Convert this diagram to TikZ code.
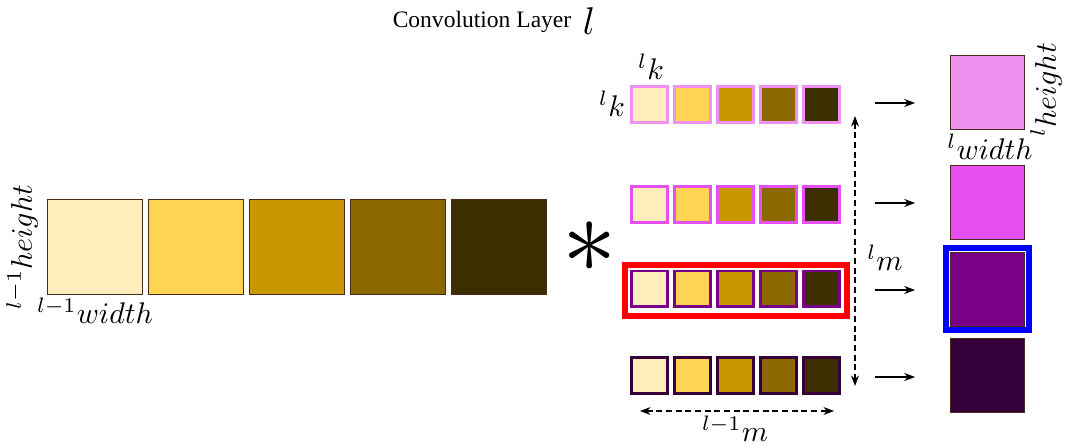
\documentclass[tikz,border=0pt]{standalone}
\usepackage{fontspec}
\usepackage{amsmath}
\newfontfamily\titlefont{Liberation Serif}
\usetikzlibrary{calc, positioning}
\usetikzlibrary{arrows.meta}

\definecolor{cA}{HTML}{FFEDBC}
\definecolor{cB}{HTML}{FFD453}
\definecolor{cC}{HTML}{C99700}
\definecolor{cD}{HTML}{8C6800}
\definecolor{cE}{HTML}{3D2E00}
\definecolor{oA}{HTML}{F090F0}
\definecolor{oB}{HTML}{E64FF2}
\definecolor{oC}{HTML}{7A0087}
\definecolor{oD}{HTML}{36003A}
\definecolor{edge}{HTML}{4A2A1A}

\tikzset{
    inbox/.style={draw=edge, line width=0.6pt, inner sep=0pt, minimum size=1.9cm},
    kbox/.style={line width=1.7pt, inner sep=0pt, minimum size=0.72cm},
    outbox/.style={draw=edge, line width=0.6pt, inner sep=0pt, minimum size=1.48cm},
    lbl/.style={scale=1.7, inner sep=0pt},
    dimarrow/.style={dash pattern=on 3.5pt off 2pt, {Stealth[length=6pt]}-{Stealth[length=6pt]}, line width=0.7pt},
}

\begin{document}
\begin{tikzpicture}[x=0.02cm, y=-0.02cm]
\useasboundingbox (0,0) rectangle (1071,448);

\node[font=\titlefont\fontsize{13.4}{15}\selectfont] (title) at (482,22) {Convolution Layer};
\node[scale=2.2, inner sep=0pt] (titlel) at (589,21) {$l$};

% input layer
\foreach \c [count=\i] in {cA,cB,cC,cD,cE}
    \node[inbox, fill=\c] (in\i) at ({95+101*(\i-1)},247) {};
\node[lbl, rotate=90] (inh) at (22,247) {$^{l-1}height$};
\node[lbl] (inw) at (95,311) {$^{l-1}width$};

\node[scale=6.2, inner sep=0pt] (star) at (590,247) {$\ast$};

% kernels
\foreach \r/\y/\e in {1/104.5/oA, 2/204.5/oB, 3/289/oC, 4/375.5/oD}
    \foreach \c [count=\i] in {cA,cB,cC,cD,cE}
        \node[kbox, draw=\e, fill=\c] (k\r-\i) at ({649+43*(\i-1)},\y) {};
\draw[red, line width=3.4pt] (625,265) rectangle (847,316);
\node[lbl] (kt) at (651,67) {$^lk$};
\node[lbl] (kl) at (612,104) {$^lk$};

\coordinate (mtop) at (855,116);
\coordinate (mbot) at (855,386);
\draw[dimarrow] (mtop) -- (mbot);
\node[lbl] (ml) at (885,258) {$^lm$};

\coordinate (wl) at (640,411);
\coordinate (wr) at (834,411);
\draw[dimarrow] (wl) -- (wr);
\node[lbl] (wlab) at (735,429) {$^{l-1}m$};

% outputs
\foreach \e/\y [count=\r] in {oA/92.5, oB/202.5, oC/289.5, oD/375.5}
    \node[outbox, fill=\e] (out\r) at (987.5,\y) {};
\draw[blue, line width=3.4pt] (946,248) rectangle (1029,330);
\node[lbl] (ow) at (990,147) {$^lwidth$};
\node[lbl, rotate=90] (oh) at (1046,90) {$^lheight$};

\foreach \y [count=\r] in {103,203,290,377} {
    \coordinate (as\r) at (875,\y);
    \coordinate (ae\r) at (915,\y);
    \draw[-{Stealth}, line width=0.7pt] (as\r) -- (ae\r);
}
\end{tikzpicture}
\end{document}
